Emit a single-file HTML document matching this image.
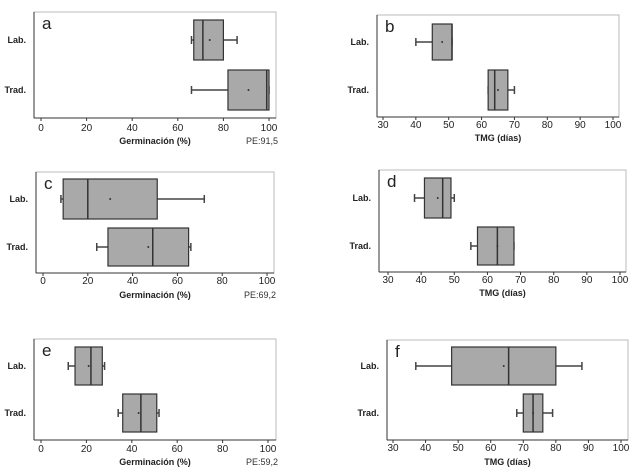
<!DOCTYPE html>
<html><head><meta charset="utf-8"><style>
body{margin:0;background:#fff;width:640px;height:474px;overflow:hidden}
svg{display:block;font-family:"Liberation Sans",sans-serif}
</style></head><body>
<svg id="c" width="640" height="474" viewBox="0 0 640 474"></svg>
<script>
const panelLetters=["a","b","c","d","e","f"];
const groups=["Lab.","Trad."];
// [whiskerLow, q1, median, q3, whiskerHigh, mean]
const labStats=[[66,67,71,80,86,74],[40,45,51,51,51,48],[8,9,20,51,72,30],[38,41,46.5,49,50,45],[12,15,22,27,28,21],[37,48,65.5,80,88,64]];
const tradStats=[[66,82,99,100,100,91],[62,62,64,68,70,65],[24,29,49,65,66,47],[55,57,63,68,68,63],[34,36,44,51,52,43],[68,70,73,76,79,73]];
const germTicks=[0,20,40,60,80,100];
const tmgTicks=[30,40,50,60,70,80,90,100];
const peLabels=["PE:91,5","","PE:69,2","","PE:59,2",""];
const xTitles=["Germinación (%)","TMG (días)","Germinación (%)","TMG (días)","Germinación (%)","TMG (días)"];
const L=[
 {x0:34,x1:276,y0:12,y1:118,t0:41,t1:269,ly:40,lh:20,ty:90,th:20,tly:131,xty:144},
 {x0:377,x1:619,y0:15,y1:117,t0:383,t1:613,ly:42,lh:18,ty:90,th:20,tly:128,xty:141},
 {x0:36,x1:274,y0:172,y1:273,t0:43,t1:267,ly:199,lh:20,ty:247,th:19,tly:284,xty:298},
 {x0:379,x1:626,y0:170,y1:272,t0:388,t1:620,ly:198,lh:20,ty:246,th:19,tly:283,xty:296},
 {x0:34,x1:276,y0:339,y1:440,t0:41,t1:268,ly:366,lh:19,ty:413,th:19,tly:452,xty:465},
 {x0:387,x1:628,y0:340,y1:440,t0:393,t1:621,ly:366,lh:19,ty:413,th:19,tly:451,xty:465}];
const svg=document.getElementById('c');const NS="http://www.w3.org/2000/svg";
function mk(tag,a,p){const e=document.createElementNS(NS,tag);for(const k in a)e.setAttribute(k,a[k]);(p||svg).appendChild(e);return e;}
for(let i=0;i<6;i++){
 const g=L[i];const ticks=(i%2==0)?germTicks:tmgTicks;const lo=ticks[0],hi=ticks[ticks.length-1];
 const sx=v=>g.t0+(v-lo)/(hi-lo)*(g.t1-g.t0);
 const pg=mk('g',{});
 
 
 const fr=mk('rect',{x:g.x0,y:g.y0,width:g.x1-g.x0,height:g.y1-g.y0,fill:'#fff',stroke:'#bbb','stroke-width':1},pg);
 
 
 mk('line',{x1:g.x0,y1:g.y0,x2:g.x0,y2:g.y1,stroke:'#333'},pg);
 mk('line',{x1:g.x0,y1:g.y1,x2:g.x1,y2:g.y1,stroke:'#333'},pg);
 const lt=mk('text',{x:g.x0+8,y:g.y0+17,'font-size':17,fill:'#222'},pg);lt.textContent=panelLetters[i];
 
 
 ticks.forEach(t=>{
  mk('line',{x1:sx(t),y1:g.y1,x2:sx(t),y2:g.y1+3,stroke:'#333'},pg);
  const tx=mk('text',{x:sx(t),y:g.tly,'font-size':10,'text-anchor':'middle',fill:'#222'},pg);tx.textContent=t;
  
  
 });
 const xt=mk('text',{x:(g.x0+g.x1)/2,y:g.xty,'font-size':9,'font-weight':'bold','text-anchor':'middle',fill:'#222'},pg);xt.textContent=xTitles[i];
 
 
 if(peLabels[i]){const pe=mk('text',{x:g.x1-30,y:g.xty,'font-size':9,fill:'#333'},pg);pe.textContent=peLabels[i];
  
  }
 [[labStats[i],g.ly,g.lh,groups[0]],[tradStats[i],g.ty,g.th,groups[1]]].forEach(([s,cy,h,name])=>{
  const yl=mk('text',{x:g.x0-8,y:cy+3,'font-size':9,'font-weight':'bold','text-anchor':'end',fill:'#222'},pg);yl.textContent=name;
  
  
  const bg=mk('g',{},pg);
  
  
  mk('line',{x1:sx(s[0]),y1:cy,x2:sx(s[1]),y2:cy,stroke:'#444','stroke-width':1.5},bg);
  mk('line',{x1:sx(s[3]),y1:cy,x2:sx(s[4]),y2:cy,stroke:'#444','stroke-width':1.5},bg);
  mk('line',{x1:sx(s[0]),y1:cy-4,x2:sx(s[0]),y2:cy+4,stroke:'#444','stroke-width':1.5},bg);
  mk('line',{x1:sx(s[4]),y1:cy-4,x2:sx(s[4]),y2:cy+4,stroke:'#444','stroke-width':1.5},bg);
  mk('rect',{x:sx(s[1]),y:cy-h,width:Math.max(1,sx(s[3])-sx(s[1])),height:2*h,fill:'#a9a9a9',stroke:'#333','stroke-width':1.2},bg);
  mk('line',{x1:sx(s[2]),y1:cy-h,x2:sx(s[2]),y2:cy+h,stroke:'#333','stroke-width':1.5},bg);
  mk('circle',{cx:sx(s[5]),cy:cy,r:1,fill:'#333'},bg);
 });
}
</script>
</body></html>
